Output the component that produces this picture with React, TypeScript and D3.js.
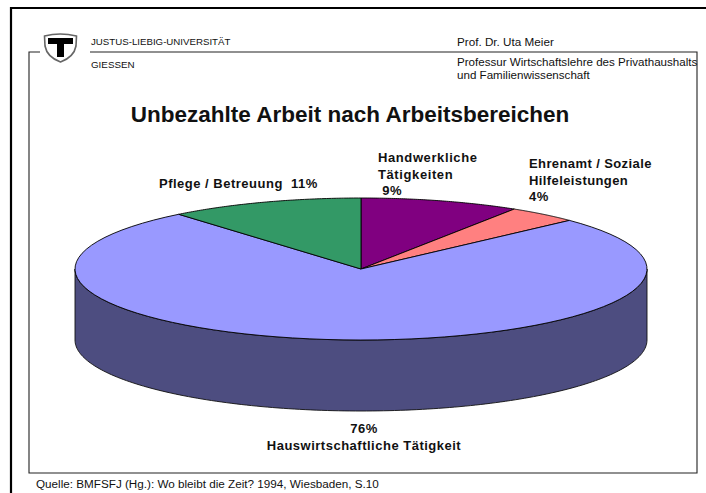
import React from "react";
import * as d3 from "d3";

const categories = ["Handwerkliche Tätigkeiten", "Ehrenamt / Soziale Hilfeleistungen", "Hauswirtschaftliche Tätigkeit", "Pflege / Betreuung"];
const values = [9, 4, 76, 11];
const colors = ["#800080", "#ff8080", "#9999ff", "#339966"];
const sideColor = "#4d4d80";

const W = 706, H = 493;
const cx = 361, cy = 269, rx = 286, ry = 71, depth = 71;

const pie = d3.pie<number>().sort(null).startAngle(0).endAngle(2 * Math.PI);
const arcs = pie(values);

function pt(a: number, dy = 0): [number, number] {
  return [cx + rx * Math.sin(a), cy - ry * Math.cos(a) + dy];
}
function slicePath(s: number, e: number) {
  const n = 80;
  const angles = d3.range(n + 1).map((i) => s + ((e - s) * i) / n);
  const line = d3.line<number>().x((a) => pt(a)[0]).y((a) => pt(a)[1]);
  return `M${cx},${cy}L` + (line(angles) as string).slice(1) + "Z";
}
function sidePath() {
  const n = 160;
  const angles = d3.range(n + 1).map((i) => Math.PI / 2 + (Math.PI * i) / n);
  const top = angles.map((a) => pt(a));
  const bottom = angles.slice().reverse().map((a) => pt(a, depth));
  return (d3.line()([...top, ...bottom]) as string) + "Z";
}

const sans = "'Liberation Sans', Arial, sans-serif";

function Label({ x, y, lines, size = 13, lh = 16.5, anchor = "start", ls = 0.5 }: any) {
  return (
    <text x={x} y={y} fontFamily={sans} fontSize={size} fontWeight={700} textAnchor={anchor} letterSpacing={ls} fill="#111" style={{ whiteSpace: "pre" }}>
      {lines.map((l: string, i: number) => (
        <tspan key={i} x={x} y={y + i * lh}>{l}</tspan>
      ))}
    </text>
  );
}

export default function App() {
  return (
    <svg width={W} height={H} viewBox={`0 0 ${W} ${H}`} style={{ position: "absolute", left: 0, top: 0, background: "#fff" }}>
      <path d="M11,493V8H706" fill="none" stroke="#000" strokeWidth={2.2} />
      <path d="M40,52H29V473H697V52H90" fill="none" stroke="#222" strokeWidth={1.1} />
      <path d="M44.5,36Q60,32 76.5,36L76,46Q74,57 60.5,62Q47,57 45,46Z" fill="#fff" stroke="#666" strokeWidth={1.6} />
      <path d="M48,38H73V44H64V57H57V44H48Z" fill="#000" />
      <text x={91} y={45} fontFamily={sans} fontSize={9.7} fill="#111">JUSTUS-LIEBIG-UNIVERSITÄT</text>
      <text x={91} y={68} fontFamily={sans} fontSize={9.8} fill="#111">GIESSEN</text>
      <text x={457} y={46} fontFamily={sans} fontSize={11.7} fill="#111">Prof. Dr. Uta Meier</text>
      <text x={457} y={66} fontFamily={sans} fontSize={11.6} fill="#111">Professur Wirtschaftslehre des Privathaushalts</text>
      <text x={457} y={79} fontFamily={sans} fontSize={11.6} fill="#111">und Familienwissenschaft</text>
      <text x={350} y={121.5} fontFamily={sans} fontSize={22.5} fontWeight={700} textAnchor="middle" fill="#111">Unbezahlte Arbeit nach Arbeitsbereichen</text>
      <path d={sidePath()} fill={sideColor} stroke="#111" strokeWidth={0.9} />
      {arcs.map((a, i) => (
        <path key={i} d={slicePath(a.startAngle, a.endAngle)} fill={colors[i]} stroke="#000" strokeWidth={0.9} strokeLinejoin="round" />
      ))}
      <Label x={378} y={162} ls={0.6} lines={["Handwerkliche", "Tätigkeiten", " 9%"]} />
      <Label x={529} y={168} ls={0.4} lines={["Ehrenamt / Soziale", "Hilfeleistungen", "4%"]} />
      <Label x={159} y={188} lines={["Pflege / Betreuung  11%"]} />
      <Label x={364} y={433} anchor="middle" lines={["76%", "Hauswirtschaftliche Tätigkeit"]} />
      <text x={36} y={488} fontFamily={sans} fontSize={11.7} fill="#111">Quelle: BMFSFJ (Hg.): Wo bleibt die Zeit? 1994, Wiesbaden, S.10</text>
    </svg>
  );
}
